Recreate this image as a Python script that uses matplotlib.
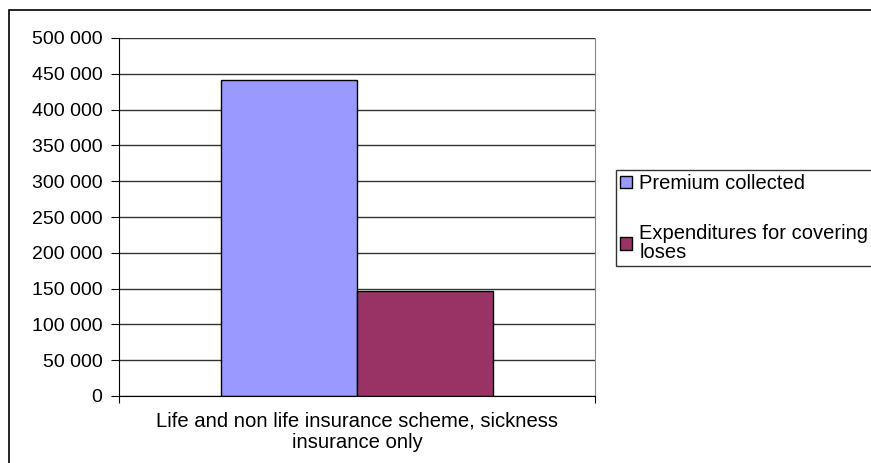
import matplotlib.pyplot as plt
from matplotlib.patches import Rectangle, Patch
from matplotlib.ticker import FuncFormatter

plt.rcParams['font.family'] = ['Liberation Sans', 'DejaVu Sans']

# data
category = "Life and non life insurance scheme, sickness\ninsurance only"
series = ["Premium collected", "Expenditures for covering\nloses"]
values = [441000, 146500]
colors = ["#9999ff", "#993366"]

W, H = 871, 463
fig = plt.figure(figsize=(W / 100, H / 100), dpi=100)

# outer chart border (right and bottom edges fall outside the picture)
fig.patches.append(Rectangle((9 / W, -0.1), 1.2, 1.1 - 10 / H, transform=fig.transFigure,
                             fill=False, edgecolor="black", linewidth=1.2))

ax = fig.add_axes([119 / W, 1 - 396 / H, (595 - 119) / W, (396 - 38) / H])

bw = 1 / 3.5
for i, (v, c) in enumerate(zip(values, colors)):
    ax.bar(-bw / 2 + i * bw, v, width=bw, color=c, edgecolor="black", linewidth=1)

ax.set_xlim(-0.5, 0.5)
ax.set_ylim(0, 500000)
ax.set_yticks(range(0, 500001, 50000))
ax.yaxis.set_major_formatter(FuncFormatter(lambda v, p: f"{int(v):,}".replace(",", " ")))
ax.yaxis.grid(True, color="#333333", linewidth=1)
ax.set_axisbelow(True)

ax.set_xticks([-0.5, 0.5])
ax.set_xticklabels([])
ax.tick_params(axis="x", length=5, color="black")
ax.tick_params(axis="y", length=6, pad=6, labelsize=14)
ax.text(0.5, -0.042, category, transform=ax.transAxes, ha="center", va="top",
        multialignment="center", fontsize=14.6, linespacing=1.2)

ax.spines["top"].set_visible(False)
ax.spines["right"].set_color("#888888")
ax.spines["left"].set_color("black")
ax.spines["bottom"].set_color("black")

handles = [Patch(facecolor=c, edgecolor="black", label=s) for s, c in zip(series, colors)]
leg = fig.legend(handles=handles, loc="upper left",
                 bbox_to_anchor=(616 / W, 1 - 170 / H), fontsize=14.5,
                 frameon=True, fancybox=False, edgecolor="black",
                 handlelength=0.6, handleheight=0.6, handletextpad=0.35,
                 labelspacing=1.55, borderpad=0.2, borderaxespad=0)
for t in leg.get_texts():
    t.set_linespacing(1.0)
leg.get_frame().set_linewidth(1)

fig.savefig("out.png", dpi=100)
